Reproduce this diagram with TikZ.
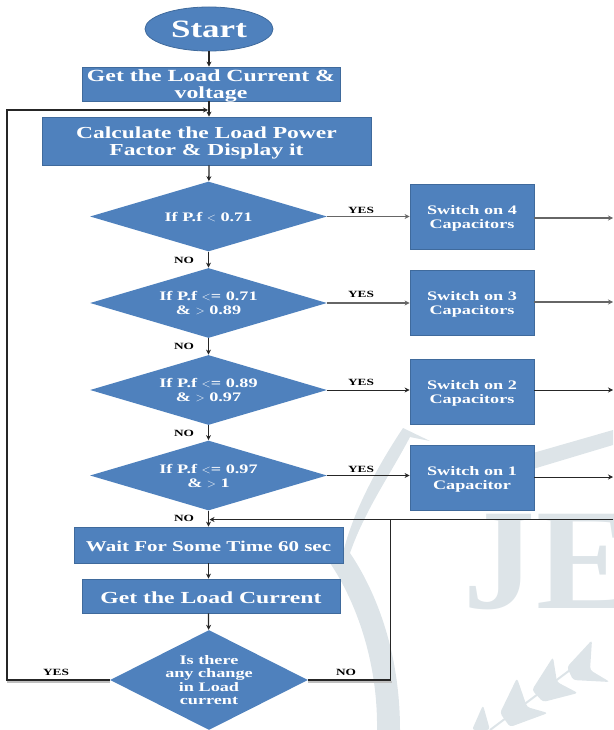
\documentclass[tikz,border=0pt]{standalone}
\usepackage{fontspec}
\setmainfont[FakeStretch=1.4]{Liberation Serif}
\newfontfamily\markfont{Liberation Serif}
\usetikzlibrary{shapes.geometric,arrows.meta}
\definecolor{boxblue}{HTML}{4F81BD}
\definecolor{boxedge}{HTML}{3F6A9C}
\definecolor{markgray}{HTML}{DDE4E8}
\tikzset{
  pushdown/.style={execute at begin node={\rule{0pt}{#1}}},
  procbox/.style={draw=boxedge, fill=boxblue, text=white, font=\bfseries, align=center,
                  inner sep=0pt, line width=0.8pt},
  startnode/.style={procbox, ellipse, minimum width=128pt, minimum height=44pt},
  decision/.style={procbox, diamond, aspect=3.4, minimum width=237pt, minimum height=70pt,
                   draw=none, font=\bfseries\fontsize{13}{14}\selectfont},
  switchbox/.style={procbox, minimum width=124pt, minimum height=65pt, text depth=-5pt,
                    font=\bfseries\fontsize{13}{14}\selectfont},
  choice/.style={font=\bfseries\fontsize{9.5}{10}\selectfont, inner sep=0pt},
  flow/.style={-{Stealth[length=5pt,width=5pt]}, line width=1.3pt, black!85},
  grayflow/.style={flow, draw=black!60, line width=1.8pt},
  thinflow/.style={flow, line width=1pt},
  plainline/.style={line width=1.3pt, black!85},
  lineshade/.style={line width=2.5pt, black!25}
}
\begin{document}
\begin{tikzpicture}[x=1pt, y=-1pt]
  \useasboundingbox (0, 0) rectangle (613, 730);
  \clip (0, 0) rectangle (613, 730);
  % watermark
  \fill[markgray] (403, 428) -- (430, 441) -- (410, 437) .. controls (390, 475) and (365, 510) .. (350, 553)
                  .. controls (375, 590) and (400, 650) .. (400, 730) -- (377, 730)
                  .. controls (378, 660) and (355, 600) .. (330, 563) -- (343, 553)
                  .. controls (352, 515) and (375, 470) .. cycle;
  \fill[markgray] (533, 453) -- (613, 430) -- (613, 445) -- (533, 469) -- cycle;
  \node (markj) [text=markgray, font=\markfont\bfseries\fontsize{144}{144}\selectfont, inner sep=0pt, anchor=base west]
       at (463, 608) {J};
  \node (marke) [text=markgray, font=\markfont\bfseries\fontsize{144}{144}\selectfont, inner sep=0pt, anchor=base west]
       at (536, 608) {E};
  \fill[markgray, rounded corners=3pt]
                  (592, 640) -- (567, 667) -- (573, 680) -- (610, 682) -- (590, 670) -- cycle
                  (553, 657) -- (532, 690) -- (543, 702) -- (578, 693) -- (557, 682) -- cycle
                  (517, 678) -- (500, 713) -- (510, 727) -- (548, 713) -- (527, 707) -- cycle
                  (483, 705) -- (472, 730) -- (490, 730) -- cycle;
  \draw[markgray, line width=2pt] (490, 730) -- (570, 670);
  % boxes
  \node (start) [startnode, font=\bfseries\fontsize{25}{28}\selectfont] at (209, 29) {Start};
  \node (getvi) [procbox, minimum width=258pt, minimum height=34pt, text depth=-4pt,
                 font=\bfseries\fontsize{17}{17.5}\selectfont] at (211, 84) {Get the Load Current \&\\voltage};
  \node (calc) [procbox, minimum width=329pt, minimum height=48pt, text depth=-4pt,
                font=\bfseries\fontsize{16.8}{17.5}\selectfont] at (206.5, 141) {Calculate the Load Power\\Factor \& Display it};
  \node (ifa) [decision, pushdown=11pt] at (208.5, 216.5) {If P.f $<$ 0.71};
  \node (ifb) [decision, text depth=-1pt] at (208.5, 303) {If P.f $<$= 0.71\\\& $>$ 0.89};
  \node (ifc) [decision, text depth=-1pt] at (208.5, 390) {If P.f $<$= 0.89\\\& $>$ 0.97};
  \node (ifd) [decision, text depth=-1pt] at (208.5, 475.5) {If P.f $<$= 0.97\\\& $>$ 1};
  \node (swa) [switchbox] at (472, 216.5) {Switch on 4\\Capacitors};
  \node (swb) [switchbox] at (472, 302.5) {Switch on 3\\Capacitors};
  \node (swc) [switchbox] at (472, 391.5) {Switch on 2\\Capacitors};
  \node (swd) [switchbox] at (472, 477.5) {Switch on 1\\Capacitor};
  \node (wait) [procbox, minimum width=269pt, minimum height=36pt, pushdown=13pt,
                font=\bfseries\fontsize{15}{16}\selectfont] at (208.5, 545) {Wait For Some Time 60 sec};
  \node (getload) [procbox, minimum width=258pt, minimum height=34pt, pushdown=16pt,
                   font=\bfseries\fontsize{16.9}{18}\selectfont] at (211, 596) {Get the Load Current};
  \node (change) [decision, aspect=2, minimum width=198pt, minimum height=100pt,
                  font=\bfseries\fontsize{13}{13.3}\selectfont] at (209, 680) {Is there\\any change\\in Load\\current};
  % free ends
  \coordinate (enda) at (613, 218);
  \coordinate (endb) at (613, 302);
  \coordinate (endc) at (613, 390);
  \coordinate (endd) at (613, 477);
  \coordinate (back) at (613, 519.5);
  \coordinate (joinb) at (209.5, 519.5);
  \coordinate (joint) at (390.5, 519.5);
  \coordinate (joina) at (208, 110);
  \coordinate (leftc) at (7, 680);
  \coordinate (rightc) at (390.5, 680);
  % connectors
  \draw[lineshade] (change.west |- 0, 682) -- (7, 682);
  \draw[lineshade] (change.east |- 0, 682) -- (392, 682);
  \draw[flow] (start) -- (getvi.north -| start);
  \draw[flow] (getvi.south -| start) -- (calc.north -| start);
  \draw[flow] (calc.south -| start) -- (ifa);
  \draw[flow] (ifa) -- (ifb);
  \draw[flow] (ifb) -- (ifc);
  \draw[flow] (ifc) -- (ifd);
  \draw[flow] (ifd) -- (wait.north -| ifd);
  \draw[flow] (wait.south -| ifd) -- (getload.north -| ifd);
  \draw[flow] (getload.south -| ifd) -- (change);
  \draw[grayflow] (ifa.east) -- (swa.west |- ifa.east);
  \draw[grayflow] (ifb.east) -- (swb.west |- ifb.east);
  \draw[thinflow] (ifc.east) -- (swc.west |- ifc.east);
  \draw[thinflow] (ifd.east) -- (swd.west |- ifd.east);
  \draw[grayflow] (swa.east |- enda) -- (enda);
  \draw[grayflow] (swb.east |- endb) -- (endb);
  \draw[thinflow] (swc.east |- endc) -- (endc);
  \draw[thinflow] (swd.east |- endd) -- (endd);
  \draw[flow] (back) -- (joinb);
  \draw[plainline] (change.east) -- (rightc) -- (joint);
  \draw[flow] (change.west) -- (leftc) |- (joina);
  % labels
  \node (yesa) [choice] at (361, 210) {YES};
  \node (yesb) [choice] at (361, 294) {YES};
  \node (yesc) [choice] at (361, 382) {YES};
  \node (yesd) [choice] at (361, 469) {YES};
  \node (noa) [choice] at (184, 260) {NO};
  \node (nob) [choice] at (184, 346) {NO};
  \node (noc) [choice] at (184, 433) {NO};
  \node (nod) [choice] at (184, 518) {NO};
  \node (yese) [choice] at (56, 672) {YES};
  \node (noe) [choice] at (346, 672) {NO};
\end{tikzpicture}
\end{document}
